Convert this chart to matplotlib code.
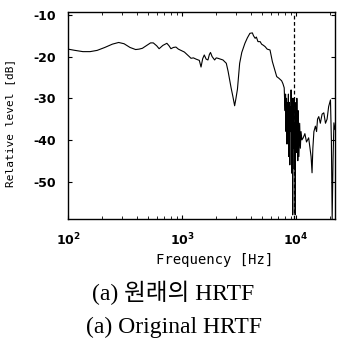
import matplotlib
matplotlib.use('Agg')
import matplotlib.pyplot as plt

# Datos (frecuencia en Hz, nivel relativo en dB)
freq = [100, 115, 135, 156, 180, 210, 245, 278, 310, 350, 392, 420, 449, 490, 530,
        560, 600, 630, 680, 737, 770, 800, 840, 885, 930, 980, 1050, 1100, 1160, 1200,
        1260, 1330, 1420, 1470, 1520, 1570, 1630, 1690, 1740, 1780, 1840, 1935, 2000,
        2070, 2180, 2290, 2450, 2540, 2620, 2700, 2800, 2900, 2980, 3070, 3140, 3210,
        3350, 3570, 3750, 3950, 4150, 4250, 4390, 4500, 4650, 4860, 5000, 5200, 5370,
        5600, 5930, 6100, 6220, 6500, 6790, 7100, 7500, 7700, 7900,
        7980, 8050, 8120, 8200, 8280, 8360, 8440, 8520, 8600, 8680, 8760, 8850, 8930,
        9000, 9080, 9150, 9220, 9300, 9380, 9460, 9540, 9620, 9700, 9780, 9860, 9940,
        10020, 10100, 10200, 10300, 10400, 10500, 10640, 10800, 10950, 11100, 11300,
        11600, 12000, 12400, 12950, 13300, 13600, 13870, 14100, 14400, 14840, 15200,
        15500, 15890, 16400, 17000, 17590, 18200, 18800, 19400, 20130, 20500, 20830,
        21200, 21580, 22050]
level = [-18.2, -18.5, -18.8, -18.8, -18.5, -17.8, -17.0, -16.6, -16.9, -17.8, -18.3,
         -18.2, -18.0, -17.3, -16.7, -16.7, -17.4, -18.1, -17.3, -16.8, -17.4, -18.1,
         -17.8, -17.7, -18.2, -18.5, -18.9, -19.4, -20.0, -20.4, -20.3, -20.6, -20.9,
         -22.5, -20.5, -19.6, -20.6, -20.8, -19.5, -19.0, -20.0, -20.8, -20.3, -20.4,
         -20.6, -20.8, -21.6, -23.5, -25.6, -27.5, -29.6, -31.8, -30.0, -27.8, -24.5,
         -21.6, -19.0, -16.8, -15.5, -14.4, -14.3, -15.0, -15.6, -15.3, -16.4, -16.4,
         -17.0, -17.3, -17.6, -18.2, -18.4, -20.0, -21.2, -23.0, -24.8, -25.2, -25.8,
         -26.5, -27.5,
         -31, -33, -29, -38, -30, -41, -31, -36, -29, -44, -31, -46, -32,
         -38, -28, -35, -48, -30, -58, -33, -42, -30, -47, -36, -58, -40,
         -31, -43, -30, -39, -45, -33, -44, -36, -42, -38, -40,
         -39.5, -38.5, -40.5, -39.5, -42, -44, -47.9, -42, -38, -36.7, -38,
         -35, -34.4, -36, -33.8, -33.5, -36, -35, -32, -30.4, -40, -59,
         -45, -35.9, -37.5]

y_ticks = [-10, -20, -30, -40, -50]
f_marca = 9700   # linea vertical discontinua

fig = plt.figure(figsize=(3.37, 3.43), dpi=100)
ax = fig.add_axes([0.202, 0.3615, 0.792, 0.6045])

ax.plot(freq, level, color='black', linewidth=0.8)
ax.axvline(f_marca, color='black', linestyle=(0, (3, 2)), linewidth=0.9)

ax.set_xscale('log')
ax.set_xlim(100, 22050)
ax.set_ylim(-59, -9.2)
ax.set_yticks(y_ticks)
ax.set_yticklabels(['-10', '-20', '-30', '-40', '-50'])
ax.tick_params(direction='in', top=True, right=True, labelsize=9, length=3, width=0.8)
ax.tick_params(axis='y', pad=9)
ax.tick_params(axis='x', pad=9)
ax.tick_params(which='minor', direction='in', top=True, length=2, width=0.6)
for lbl in ax.get_xticklabels() + ax.get_yticklabels():
    lbl.set_fontweight('bold')
for s in ax.spines.values():
    s.set_linewidth(1.0)

ax.set_xlabel('Frequency [Hz]', fontfamily='DejaVu Sans Mono', fontsize=10)
ax.xaxis.set_label_coords(0.55, -0.165)
ax.set_ylabel('Relative level [dB]', fontfamily='DejaVu Sans Mono', fontsize=8)
ax.yaxis.set_label_coords(-0.2, 0.465)

# Titulos de la figura
fam = ['Liberation Serif', 'Noto Sans CJK KR']
fig.text(0.515, (343 - 293) / 343, '(a) 원래의 HRTF', ha='center', va='center',
         fontsize=17, family=fam)
fig.text(0.515, (343 - 327) / 343, '(a) Original HRTF', ha='center', va='center',
         fontsize=17, family=fam)

fig.savefig('out.png', dpi=100)
